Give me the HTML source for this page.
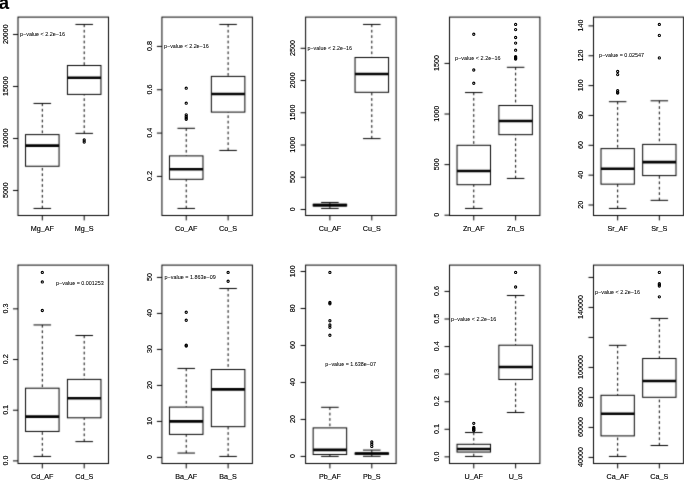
<!DOCTYPE html>
<html><head><meta charset="utf-8"><style>
html,body{margin:0;padding:0;background:#fff;}
body{width:684px;height:480px;overflow:hidden;}
svg{display:block;}
text{font-family:"Liberation Sans",sans-serif;fill:#000;stroke:#000;stroke-width:0.15px;}
.ax{font-size:7.2px;}
.ay{font-size:7.2px;}
.pv{font-size:5.4px;stroke-width:0.05px;}
.fr{fill:none;stroke:#000;stroke-width:1.0;}
.ln{stroke:#000;stroke-width:1;fill:none;}
.cp{stroke:#000;stroke-width:1;fill:none;stroke-linecap:round;}
.wh{stroke:#000;stroke-width:1;stroke-dasharray:2.7 2.7;fill:none;}
.bx{fill:#fff;stroke:#000;stroke-width:1;}
.md{stroke:#000;stroke-width:2.6;}
.pt{fill:none;stroke:#000;stroke-width:1.1;}
.lab{font-family:"Liberation Sans",sans-serif;font-weight:bold;font-size:18.5px;}
</style></head><body>
<svg width="684" height="480" viewBox="0 0 684 480">
<defs><filter id="bl" x="-5%" y="-5%" width="110%" height="110%" color-interpolation-filters="sRGB"><feConvolveMatrix order="3" kernelMatrix="0.0169 0.0962 0.0169 0.0962 0.5476 0.0962 0.0169 0.0962 0.0169" edgeMode="duplicate" preserveAlpha="false"/></filter><filter id="gs" x="-5%" y="-5%" width="110%" height="110%"><feOffset dx="0" dy="0"/></filter></defs>
<rect width="684" height="480" fill="#fff"/>
<g filter="url(#bl)">
<rect x="18" y="17.1" width="90.5" height="198.4" class="fr"/>
<line x1="13" y1="190.47" x2="18" y2="190.47" class="ln"/>
<line x1="13" y1="138.47" x2="18" y2="138.47" class="ln"/>
<line x1="13" y1="86.47" x2="18" y2="86.47" class="ln"/>
<line x1="13" y1="34.47" x2="18" y2="34.47" class="ln"/>
<line x1="42.3" y1="215.5" x2="42.3" y2="220.4" class="ln"/>
<line x1="84.2" y1="215.5" x2="84.2" y2="220.4" class="ln"/>
<line x1="42.3" y1="103.45" x2="42.3" y2="134.6" class="wh"/>
<line x1="42.3" y1="208.45" x2="42.3" y2="166.25" class="wh"/>
<line x1="33.92" y1="103.45" x2="50.68" y2="103.45" class="cp"/>
<line x1="33.92" y1="208.45" x2="50.68" y2="208.45" class="cp"/>
<rect x="25.54" y="134.6" width="33.52" height="31.65" class="bx"/>
<line x1="25.54" y1="145.6" x2="59.06" y2="145.6" class="md"/>
<line x1="84.2" y1="24.45" x2="84.2" y2="65.5" class="wh"/>
<line x1="84.2" y1="133.4" x2="84.2" y2="94.4" class="wh"/>
<line x1="75.82" y1="24.45" x2="92.58" y2="24.45" class="cp"/>
<line x1="75.82" y1="133.4" x2="92.58" y2="133.4" class="cp"/>
<rect x="67.44" y="65.5" width="33.52" height="28.9" class="bx"/>
<line x1="67.44" y1="77.75" x2="100.96" y2="77.75" class="md"/>
<rect x="161.93" y="17.1" width="90.47" height="198.4" class="fr"/>
<line x1="156.93" y1="176.41" x2="161.93" y2="176.41" class="ln"/>
<line x1="156.93" y1="133.08" x2="161.93" y2="133.08" class="ln"/>
<line x1="156.93" y1="89.75" x2="161.93" y2="89.75" class="ln"/>
<line x1="156.93" y1="46.41" x2="161.93" y2="46.41" class="ln"/>
<line x1="186.22" y1="215.5" x2="186.22" y2="220.4" class="ln"/>
<line x1="228.11" y1="215.5" x2="228.11" y2="220.4" class="ln"/>
<line x1="186.22" y1="128.3" x2="186.22" y2="155.9" class="wh"/>
<line x1="186.22" y1="208.45" x2="186.22" y2="179.3" class="wh"/>
<line x1="177.85" y1="128.3" x2="194.6" y2="128.3" class="cp"/>
<line x1="177.85" y1="208.45" x2="194.6" y2="208.45" class="cp"/>
<rect x="169.47" y="155.9" width="33.51" height="23.4" class="bx"/>
<line x1="169.47" y1="169.2" x2="202.98" y2="169.2" class="md"/>
<line x1="228.11" y1="24.45" x2="228.11" y2="76.4" class="wh"/>
<line x1="228.11" y1="150.45" x2="228.11" y2="112.1" class="wh"/>
<line x1="219.73" y1="24.45" x2="236.48" y2="24.45" class="cp"/>
<line x1="219.73" y1="150.45" x2="236.48" y2="150.45" class="cp"/>
<rect x="211.35" y="76.4" width="33.51" height="35.7" class="bx"/>
<line x1="211.35" y1="94" x2="244.86" y2="94" class="md"/>
<rect x="305.6" y="17.1" width="90.5" height="198.4" class="fr"/>
<line x1="300.6" y1="209.5" x2="305.6" y2="209.5" class="ln"/>
<line x1="300.6" y1="177.26" x2="305.6" y2="177.26" class="ln"/>
<line x1="300.6" y1="145.02" x2="305.6" y2="145.02" class="ln"/>
<line x1="300.6" y1="112.78" x2="305.6" y2="112.78" class="ln"/>
<line x1="300.6" y1="80.54" x2="305.6" y2="80.54" class="ln"/>
<line x1="300.6" y1="48.3" x2="305.6" y2="48.3" class="ln"/>
<line x1="329.9" y1="215.5" x2="329.9" y2="220.4" class="ln"/>
<line x1="371.8" y1="215.5" x2="371.8" y2="220.4" class="ln"/>
<line x1="329.9" y1="202.45" x2="329.9" y2="204.3" class="wh"/>
<line x1="329.9" y1="208.45" x2="329.9" y2="205.95" class="wh"/>
<line x1="321.52" y1="202.45" x2="338.28" y2="202.45" class="cp"/>
<line x1="321.52" y1="208.45" x2="338.28" y2="208.45" class="cp"/>
<rect x="313.14" y="204.3" width="33.52" height="1.65" class="bx"/>
<line x1="313.14" y1="205.1" x2="346.66" y2="205.1" class="md"/>
<line x1="371.8" y1="24.45" x2="371.8" y2="57.5" class="wh"/>
<line x1="371.8" y1="138.6" x2="371.8" y2="92.3" class="wh"/>
<line x1="363.42" y1="24.45" x2="380.18" y2="24.45" class="cp"/>
<line x1="363.42" y1="138.6" x2="380.18" y2="138.6" class="cp"/>
<rect x="355.04" y="57.5" width="33.52" height="34.8" class="bx"/>
<line x1="355.04" y1="73.95" x2="388.56" y2="73.95" class="md"/>
<rect x="449.5" y="17.1" width="90.4" height="198.4" class="fr"/>
<line x1="444.5" y1="215.2" x2="449.5" y2="215.2" class="ln"/>
<line x1="444.5" y1="164.61" x2="449.5" y2="164.61" class="ln"/>
<line x1="444.5" y1="114.02" x2="449.5" y2="114.02" class="ln"/>
<line x1="444.5" y1="63.43" x2="449.5" y2="63.43" class="ln"/>
<line x1="473.77" y1="215.5" x2="473.77" y2="220.4" class="ln"/>
<line x1="515.63" y1="215.5" x2="515.63" y2="220.4" class="ln"/>
<line x1="473.77" y1="92.55" x2="473.77" y2="145.3" class="wh"/>
<line x1="473.77" y1="208.45" x2="473.77" y2="184.7" class="wh"/>
<line x1="465.4" y1="92.55" x2="482.14" y2="92.55" class="cp"/>
<line x1="465.4" y1="208.45" x2="482.14" y2="208.45" class="cp"/>
<rect x="457.03" y="145.3" width="33.48" height="39.4" class="bx"/>
<line x1="457.03" y1="171" x2="490.52" y2="171" class="md"/>
<line x1="515.63" y1="67.3" x2="515.63" y2="105.5" class="wh"/>
<line x1="515.63" y1="178.45" x2="515.63" y2="134.65" class="wh"/>
<line x1="507.26" y1="67.3" x2="524" y2="67.3" class="cp"/>
<line x1="507.26" y1="178.45" x2="524" y2="178.45" class="cp"/>
<rect x="498.88" y="105.5" width="33.48" height="29.15" class="bx"/>
<line x1="498.88" y1="120.95" x2="532.37" y2="120.95" class="md"/>
<rect x="593.5" y="17.1" width="90" height="198.4" class="fr"/>
<line x1="588.5" y1="205" x2="593.5" y2="205" class="ln"/>
<line x1="588.5" y1="175.15" x2="593.5" y2="175.15" class="ln"/>
<line x1="588.5" y1="145.3" x2="593.5" y2="145.3" class="ln"/>
<line x1="588.5" y1="115.45" x2="593.5" y2="115.45" class="ln"/>
<line x1="588.5" y1="85.6" x2="593.5" y2="85.6" class="ln"/>
<line x1="588.5" y1="55.75" x2="593.5" y2="55.75" class="ln"/>
<line x1="588.5" y1="25.9" x2="593.5" y2="25.9" class="ln"/>
<line x1="617.67" y1="215.5" x2="617.67" y2="220.4" class="ln"/>
<line x1="659.33" y1="215.5" x2="659.33" y2="220.4" class="ln"/>
<line x1="617.67" y1="101.7" x2="617.67" y2="148.6" class="wh"/>
<line x1="617.67" y1="208.45" x2="617.67" y2="184.15" class="wh"/>
<line x1="609.33" y1="101.7" x2="626" y2="101.7" class="cp"/>
<line x1="609.33" y1="208.45" x2="626" y2="208.45" class="cp"/>
<rect x="601" y="148.6" width="33.33" height="35.55" class="bx"/>
<line x1="601" y1="168.75" x2="634.33" y2="168.75" class="md"/>
<line x1="659.33" y1="100.8" x2="659.33" y2="144.4" class="wh"/>
<line x1="659.33" y1="200.35" x2="659.33" y2="175.6" class="wh"/>
<line x1="651" y1="100.8" x2="667.67" y2="100.8" class="cp"/>
<line x1="651" y1="200.35" x2="667.67" y2="200.35" class="cp"/>
<rect x="642.67" y="144.4" width="33.33" height="31.2" class="bx"/>
<line x1="642.67" y1="162.1" x2="676" y2="162.1" class="md"/>
<rect x="18" y="265.1" width="90.5" height="198.4" class="fr"/>
<line x1="13" y1="460.9" x2="18" y2="460.9" class="ln"/>
<line x1="13" y1="410.22" x2="18" y2="410.22" class="ln"/>
<line x1="13" y1="359.53" x2="18" y2="359.53" class="ln"/>
<line x1="13" y1="308.85" x2="18" y2="308.85" class="ln"/>
<line x1="42.3" y1="463.5" x2="42.3" y2="468.4" class="ln"/>
<line x1="84.2" y1="463.5" x2="84.2" y2="468.4" class="ln"/>
<line x1="42.3" y1="324.95" x2="42.3" y2="388.2" class="wh"/>
<line x1="42.3" y1="456.45" x2="42.3" y2="431.45" class="wh"/>
<line x1="33.92" y1="324.95" x2="50.68" y2="324.95" class="cp"/>
<line x1="33.92" y1="456.45" x2="50.68" y2="456.45" class="cp"/>
<rect x="25.54" y="388.2" width="33.52" height="43.25" class="bx"/>
<line x1="25.54" y1="416.6" x2="59.06" y2="416.6" class="md"/>
<line x1="84.2" y1="335.5" x2="84.2" y2="379.4" class="wh"/>
<line x1="84.2" y1="441.6" x2="84.2" y2="417.8" class="wh"/>
<line x1="75.82" y1="335.5" x2="92.58" y2="335.5" class="cp"/>
<line x1="75.82" y1="441.6" x2="92.58" y2="441.6" class="cp"/>
<rect x="67.44" y="379.4" width="33.52" height="38.4" class="bx"/>
<line x1="67.44" y1="398.2" x2="100.96" y2="398.2" class="md"/>
<rect x="161.93" y="265.1" width="90.47" height="198.4" class="fr"/>
<line x1="156.93" y1="457.43" x2="161.93" y2="457.43" class="ln"/>
<line x1="156.93" y1="421.43" x2="161.93" y2="421.43" class="ln"/>
<line x1="156.93" y1="385.43" x2="161.93" y2="385.43" class="ln"/>
<line x1="156.93" y1="349.43" x2="161.93" y2="349.43" class="ln"/>
<line x1="156.93" y1="313.43" x2="161.93" y2="313.43" class="ln"/>
<line x1="156.93" y1="277.43" x2="161.93" y2="277.43" class="ln"/>
<line x1="186.22" y1="463.5" x2="186.22" y2="468.4" class="ln"/>
<line x1="228.11" y1="463.5" x2="228.11" y2="468.4" class="ln"/>
<line x1="186.22" y1="368.45" x2="186.22" y2="407.1" class="wh"/>
<line x1="186.22" y1="453.05" x2="186.22" y2="434.4" class="wh"/>
<line x1="177.85" y1="368.45" x2="194.6" y2="368.45" class="cp"/>
<line x1="177.85" y1="453.05" x2="194.6" y2="453.05" class="cp"/>
<rect x="169.47" y="407.1" width="33.51" height="27.3" class="bx"/>
<line x1="169.47" y1="421.35" x2="202.98" y2="421.35" class="md"/>
<line x1="228.11" y1="288.5" x2="228.11" y2="369.5" class="wh"/>
<line x1="228.11" y1="456.45" x2="228.11" y2="426.65" class="wh"/>
<line x1="219.73" y1="288.5" x2="236.48" y2="288.5" class="cp"/>
<line x1="219.73" y1="456.45" x2="236.48" y2="456.45" class="cp"/>
<rect x="211.35" y="369.5" width="33.51" height="57.15" class="bx"/>
<line x1="211.35" y1="389.4" x2="244.86" y2="389.4" class="md"/>
<rect x="305.6" y="265.1" width="90.5" height="198.4" class="fr"/>
<line x1="300.6" y1="456.43" x2="305.6" y2="456.43" class="ln"/>
<line x1="300.6" y1="419.44" x2="305.6" y2="419.44" class="ln"/>
<line x1="300.6" y1="382.46" x2="305.6" y2="382.46" class="ln"/>
<line x1="300.6" y1="345.47" x2="305.6" y2="345.47" class="ln"/>
<line x1="300.6" y1="308.49" x2="305.6" y2="308.49" class="ln"/>
<line x1="300.6" y1="271.5" x2="305.6" y2="271.5" class="ln"/>
<line x1="329.9" y1="463.5" x2="329.9" y2="468.4" class="ln"/>
<line x1="371.8" y1="463.5" x2="371.8" y2="468.4" class="ln"/>
<line x1="329.9" y1="407.3" x2="329.9" y2="427.9" class="wh"/>
<line x1="329.9" y1="456.4" x2="329.9" y2="454.5" class="wh"/>
<line x1="321.52" y1="407.3" x2="338.28" y2="407.3" class="cp"/>
<line x1="321.52" y1="456.4" x2="338.28" y2="456.4" class="cp"/>
<rect x="313.14" y="427.9" width="33.52" height="26.6" class="bx"/>
<line x1="313.14" y1="449.9" x2="346.66" y2="449.9" class="md"/>
<line x1="371.8" y1="450.1" x2="371.8" y2="453" class="wh"/>
<line x1="371.8" y1="456.3" x2="371.8" y2="454.2" class="wh"/>
<line x1="363.42" y1="450.1" x2="380.18" y2="450.1" class="cp"/>
<line x1="363.42" y1="456.3" x2="380.18" y2="456.3" class="cp"/>
<rect x="355.04" y="453" width="33.52" height="1.2" class="bx"/>
<line x1="355.04" y1="453.55" x2="388.56" y2="453.55" class="md"/>
<rect x="449.5" y="265.1" width="90.4" height="198.4" class="fr"/>
<line x1="444.5" y1="456.85" x2="449.5" y2="456.85" class="ln"/>
<line x1="444.5" y1="429.28" x2="449.5" y2="429.28" class="ln"/>
<line x1="444.5" y1="401.71" x2="449.5" y2="401.71" class="ln"/>
<line x1="444.5" y1="374.14" x2="449.5" y2="374.14" class="ln"/>
<line x1="444.5" y1="346.57" x2="449.5" y2="346.57" class="ln"/>
<line x1="444.5" y1="319" x2="449.5" y2="319" class="ln"/>
<line x1="444.5" y1="291.43" x2="449.5" y2="291.43" class="ln"/>
<line x1="473.77" y1="463.5" x2="473.77" y2="468.4" class="ln"/>
<line x1="515.63" y1="463.5" x2="515.63" y2="468.4" class="ln"/>
<line x1="473.77" y1="432.5" x2="473.77" y2="444.3" class="wh"/>
<line x1="473.77" y1="456.45" x2="473.77" y2="452.05" class="wh"/>
<line x1="465.4" y1="432.5" x2="482.14" y2="432.5" class="cp"/>
<line x1="465.4" y1="456.45" x2="482.14" y2="456.45" class="cp"/>
<rect x="457.03" y="444.3" width="33.48" height="7.75" class="bx"/>
<line x1="457.03" y1="449" x2="490.52" y2="449" class="md"/>
<line x1="515.63" y1="295.5" x2="515.63" y2="345.2" class="wh"/>
<line x1="515.63" y1="412.5" x2="515.63" y2="379.5" class="wh"/>
<line x1="507.26" y1="295.5" x2="524" y2="295.5" class="cp"/>
<line x1="507.26" y1="412.5" x2="524" y2="412.5" class="cp"/>
<rect x="498.88" y="345.2" width="33.48" height="34.3" class="bx"/>
<line x1="498.88" y1="367" x2="532.37" y2="367" class="md"/>
<rect x="593.5" y="265.1" width="90" height="198.4" class="fr"/>
<line x1="588.5" y1="457.43" x2="593.5" y2="457.43" class="ln"/>
<line x1="588.5" y1="427.43" x2="593.5" y2="427.43" class="ln"/>
<line x1="588.5" y1="397.43" x2="593.5" y2="397.43" class="ln"/>
<line x1="588.5" y1="367.43" x2="593.5" y2="367.43" class="ln"/>
<line x1="588.5" y1="337.43" x2="593.5" y2="337.43" class="ln"/>
<line x1="588.5" y1="307.43" x2="593.5" y2="307.43" class="ln"/>
<line x1="588.5" y1="277.43" x2="593.5" y2="277.43" class="ln"/>
<line x1="617.67" y1="463.5" x2="617.67" y2="468.4" class="ln"/>
<line x1="659.33" y1="463.5" x2="659.33" y2="468.4" class="ln"/>
<line x1="617.67" y1="345.35" x2="617.67" y2="395.3" class="wh"/>
<line x1="617.67" y1="456.45" x2="617.67" y2="435.9" class="wh"/>
<line x1="609.33" y1="345.35" x2="626" y2="345.35" class="cp"/>
<line x1="609.33" y1="456.45" x2="626" y2="456.45" class="cp"/>
<rect x="601" y="395.3" width="33.33" height="40.6" class="bx"/>
<line x1="601" y1="413.75" x2="634.33" y2="413.75" class="md"/>
<line x1="659.33" y1="318.45" x2="659.33" y2="358.5" class="wh"/>
<line x1="659.33" y1="445.5" x2="659.33" y2="397.3" class="wh"/>
<line x1="651" y1="318.45" x2="667.67" y2="318.45" class="cp"/>
<line x1="651" y1="445.5" x2="667.67" y2="445.5" class="cp"/>
<rect x="642.67" y="358.5" width="33.33" height="38.8" class="bx"/>
<line x1="642.67" y1="381" x2="676" y2="381" class="md"/>
</g>
<g filter="url(#gs)">
<circle cx="84.2" cy="140" r="1.1" class="pt"/>
<circle cx="84.2" cy="142" r="1.1" class="pt"/>
<circle cx="186.22" cy="88.2" r="1.1" class="pt"/>
<circle cx="186.22" cy="103.2" r="1.1" class="pt"/>
<circle cx="186.22" cy="114.8" r="1.1" class="pt"/>
<circle cx="186.22" cy="116.5" r="1.1" class="pt"/>
<circle cx="186.22" cy="118" r="1.1" class="pt"/>
<circle cx="186.22" cy="119.3" r="1.1" class="pt"/>
<circle cx="473.77" cy="34.25" r="1.1" class="pt"/>
<circle cx="473.77" cy="70" r="1.1" class="pt"/>
<circle cx="473.77" cy="83.25" r="1.1" class="pt"/>
<circle cx="515.63" cy="24.45" r="1.1" class="pt"/>
<circle cx="515.63" cy="29.6" r="1.1" class="pt"/>
<circle cx="515.63" cy="37.5" r="1.1" class="pt"/>
<circle cx="515.63" cy="43.1" r="1.1" class="pt"/>
<circle cx="515.63" cy="50.2" r="1.1" class="pt"/>
<circle cx="515.63" cy="56.6" r="1.1" class="pt"/>
<circle cx="515.63" cy="57.5" r="1.1" class="pt"/>
<circle cx="515.63" cy="58.3" r="1.1" class="pt"/>
<circle cx="515.63" cy="59" r="1.1" class="pt"/>
<circle cx="617.67" cy="71.5" r="1.1" class="pt"/>
<circle cx="617.67" cy="74.6" r="1.1" class="pt"/>
<circle cx="617.67" cy="90.7" r="1.1" class="pt"/>
<circle cx="617.67" cy="92.3" r="1.1" class="pt"/>
<circle cx="617.67" cy="93.1" r="1.1" class="pt"/>
<circle cx="659.33" cy="24.45" r="1.1" class="pt"/>
<circle cx="659.33" cy="35.4" r="1.1" class="pt"/>
<circle cx="659.33" cy="57.9" r="1.1" class="pt"/>
<circle cx="42.3" cy="272.45" r="1.1" class="pt"/>
<circle cx="42.3" cy="281.95" r="1.1" class="pt"/>
<circle cx="42.3" cy="310.5" r="1.1" class="pt"/>
<circle cx="186.22" cy="312.25" r="1.1" class="pt"/>
<circle cx="186.22" cy="320.25" r="1.1" class="pt"/>
<circle cx="186.22" cy="345.25" r="1.1" class="pt"/>
<circle cx="186.22" cy="346" r="1.1" class="pt"/>
<circle cx="228.11" cy="272.45" r="1.1" class="pt"/>
<circle cx="228.11" cy="281.25" r="1.1" class="pt"/>
<circle cx="329.9" cy="272.45" r="1.1" class="pt"/>
<circle cx="329.9" cy="302.5" r="1.1" class="pt"/>
<circle cx="329.9" cy="303.75" r="1.1" class="pt"/>
<circle cx="329.9" cy="320.75" r="1.1" class="pt"/>
<circle cx="329.9" cy="325" r="1.1" class="pt"/>
<circle cx="329.9" cy="327.25" r="1.1" class="pt"/>
<circle cx="329.9" cy="335.25" r="1.1" class="pt"/>
<circle cx="371.8" cy="442" r="1.1" class="pt"/>
<circle cx="371.8" cy="444.2" r="1.1" class="pt"/>
<circle cx="371.8" cy="446.4" r="1.1" class="pt"/>
<circle cx="473.77" cy="423.3" r="1.1" class="pt"/>
<circle cx="473.77" cy="427.5" r="1.1" class="pt"/>
<circle cx="473.77" cy="428.3" r="1.1" class="pt"/>
<circle cx="473.77" cy="429.1" r="1.1" class="pt"/>
<circle cx="473.77" cy="429.9" r="1.1" class="pt"/>
<circle cx="473.77" cy="430.6" r="1.1" class="pt"/>
<circle cx="515.63" cy="272.45" r="1.1" class="pt"/>
<circle cx="515.63" cy="287" r="1.1" class="pt"/>
<circle cx="659.33" cy="272.4" r="1.1" class="pt"/>
<circle cx="659.33" cy="283.7" r="1.1" class="pt"/>
<circle cx="659.33" cy="284.8" r="1.1" class="pt"/>
<circle cx="659.33" cy="286" r="1.1" class="pt"/>
<circle cx="659.33" cy="296.85" r="1.1" class="pt"/>
</g>
<g class="tx" filter="url(#gs)">
<text x="-1.2" y="9.0" class="lab">a</text>
<text x="0" y="0" transform="translate(7.6 190.12) rotate(-90)" class="ax ay" text-anchor="middle">5000</text>
<text x="0" y="0" transform="translate(7.6 138.12) rotate(-90)" class="ax ay" text-anchor="middle">10000</text>
<text x="0" y="0" transform="translate(7.6 86.12) rotate(-90)" class="ax ay" text-anchor="middle">15000</text>
<text x="0" y="0" transform="translate(7.6 34.12) rotate(-90)" class="ax ay" text-anchor="middle">20000</text>
<text x="42.3" y="230.7" class="ax" text-anchor="middle">Mg<tspan dy="-1">_</tspan><tspan dy="1">AF</tspan></text>
<text x="84.2" y="230.7" class="ax" text-anchor="middle">Mg<tspan dy="-1">_</tspan><tspan dy="1">S</tspan></text>
<text x="20" y="36.02" class="pv" textLength="45" lengthAdjust="spacingAndGlyphs">p−value < 2.2e−16</text>
<text x="0" y="0" transform="translate(151.53 176.06) rotate(-90)" class="ax ay" text-anchor="middle">0.2</text>
<text x="0" y="0" transform="translate(151.53 132.73) rotate(-90)" class="ax ay" text-anchor="middle">0.4</text>
<text x="0" y="0" transform="translate(151.53 89.4) rotate(-90)" class="ax ay" text-anchor="middle">0.6</text>
<text x="0" y="0" transform="translate(151.53 46.06) rotate(-90)" class="ax ay" text-anchor="middle">0.8</text>
<text x="186.22" y="230.7" class="ax" text-anchor="middle">Co<tspan dy="-1">_</tspan><tspan dy="1">AF</tspan></text>
<text x="228.11" y="230.7" class="ax" text-anchor="middle">Co<tspan dy="-1">_</tspan><tspan dy="1">S</tspan></text>
<text x="164" y="48" class="pv" textLength="44.75" lengthAdjust="spacingAndGlyphs">p−value < 2.2e−16</text>
<text x="0" y="0" transform="translate(295.2 209.15) rotate(-90)" class="ax ay" text-anchor="middle">0</text>
<text x="0" y="0" transform="translate(295.2 176.91) rotate(-90)" class="ax ay" text-anchor="middle">500</text>
<text x="0" y="0" transform="translate(295.2 144.67) rotate(-90)" class="ax ay" text-anchor="middle">1000</text>
<text x="0" y="0" transform="translate(295.2 112.43) rotate(-90)" class="ax ay" text-anchor="middle">1500</text>
<text x="0" y="0" transform="translate(295.2 80.19) rotate(-90)" class="ax ay" text-anchor="middle">2000</text>
<text x="0" y="0" transform="translate(295.2 47.95) rotate(-90)" class="ax ay" text-anchor="middle">2500</text>
<text x="329.9" y="230.7" class="ax" text-anchor="middle">Cu<tspan dy="-1">_</tspan><tspan dy="1">AF</tspan></text>
<text x="371.8" y="230.7" class="ax" text-anchor="middle">Cu<tspan dy="-1">_</tspan><tspan dy="1">S</tspan></text>
<text x="307.5" y="49.85" class="pv" textLength="44.5" lengthAdjust="spacingAndGlyphs">p−value < 2.2e−16</text>
<text x="0" y="0" transform="translate(439.1 214.85) rotate(-90)" class="ax ay" text-anchor="middle">0</text>
<text x="0" y="0" transform="translate(439.1 164.26) rotate(-90)" class="ax ay" text-anchor="middle">500</text>
<text x="0" y="0" transform="translate(439.1 113.67) rotate(-90)" class="ax ay" text-anchor="middle">1000</text>
<text x="0" y="0" transform="translate(439.1 63.08) rotate(-90)" class="ax ay" text-anchor="middle">1500</text>
<text x="473.77" y="230.7" class="ax" text-anchor="middle">Zn<tspan dy="-1">_</tspan><tspan dy="1">AF</tspan></text>
<text x="515.63" y="230.7" class="ax" text-anchor="middle">Zn<tspan dy="-1">_</tspan><tspan dy="1">S</tspan></text>
<text x="455" y="59.9" class="pv" textLength="45.5" lengthAdjust="spacingAndGlyphs">p−value < 2.2e−16</text>
<text x="0" y="0" transform="translate(583.1 204.65) rotate(-90)" class="ax ay" text-anchor="middle">20</text>
<text x="0" y="0" transform="translate(583.1 174.8) rotate(-90)" class="ax ay" text-anchor="middle">40</text>
<text x="0" y="0" transform="translate(583.1 144.95) rotate(-90)" class="ax ay" text-anchor="middle">60</text>
<text x="0" y="0" transform="translate(583.1 115.1) rotate(-90)" class="ax ay" text-anchor="middle">80</text>
<text x="0" y="0" transform="translate(583.1 85.25) rotate(-90)" class="ax ay" text-anchor="middle">100</text>
<text x="0" y="0" transform="translate(583.1 55.4) rotate(-90)" class="ax ay" text-anchor="middle">120</text>
<text x="0" y="0" transform="translate(583.1 25.55) rotate(-90)" class="ax ay" text-anchor="middle">140</text>
<text x="617.67" y="230.7" class="ax" text-anchor="middle">Sr<tspan dy="-1">_</tspan><tspan dy="1">AF</tspan></text>
<text x="659.33" y="230.7" class="ax" text-anchor="middle">Sr<tspan dy="-1">_</tspan><tspan dy="1">S</tspan></text>
<text x="599" y="57.3" class="pv" textLength="45" lengthAdjust="spacingAndGlyphs">p−value = 0.02547</text>
<text x="0" y="0" transform="translate(7.6 460.55) rotate(-90)" class="ax ay" text-anchor="middle">0.0</text>
<text x="0" y="0" transform="translate(7.6 409.87) rotate(-90)" class="ax ay" text-anchor="middle">0.1</text>
<text x="0" y="0" transform="translate(7.6 359.18) rotate(-90)" class="ax ay" text-anchor="middle">0.2</text>
<text x="0" y="0" transform="translate(7.6 308.5) rotate(-90)" class="ax ay" text-anchor="middle">0.3</text>
<text x="42.3" y="478.7" class="ax" text-anchor="middle">Cd<tspan dy="-1">_</tspan><tspan dy="1">AF</tspan></text>
<text x="84.2" y="478.7" class="ax" text-anchor="middle">Cd<tspan dy="-1">_</tspan><tspan dy="1">S</tspan></text>
<text x="56.1" y="285.05" class="pv" textLength="47.7" lengthAdjust="spacingAndGlyphs">p−value = 0.001253</text>
<text x="0" y="0" transform="translate(151.53 457.08) rotate(-90)" class="ax ay" text-anchor="middle">0</text>
<text x="0" y="0" transform="translate(151.53 421.08) rotate(-90)" class="ax ay" text-anchor="middle">10</text>
<text x="0" y="0" transform="translate(151.53 385.08) rotate(-90)" class="ax ay" text-anchor="middle">20</text>
<text x="0" y="0" transform="translate(151.53 349.08) rotate(-90)" class="ax ay" text-anchor="middle">30</text>
<text x="0" y="0" transform="translate(151.53 313.08) rotate(-90)" class="ax ay" text-anchor="middle">40</text>
<text x="0" y="0" transform="translate(151.53 277.08) rotate(-90)" class="ax ay" text-anchor="middle">50</text>
<text x="186.22" y="478.7" class="ax" text-anchor="middle">Ba<tspan dy="-1">_</tspan><tspan dy="1">AF</tspan></text>
<text x="228.11" y="478.7" class="ax" text-anchor="middle">Ba<tspan dy="-1">_</tspan><tspan dy="1">S</tspan></text>
<text x="164.6" y="278.98" class="pv" textLength="51.2" lengthAdjust="spacingAndGlyphs">p−value = 1.863e−09</text>
<text x="0" y="0" transform="translate(295.2 456.08) rotate(-90)" class="ax ay" text-anchor="middle">0</text>
<text x="0" y="0" transform="translate(295.2 419.09) rotate(-90)" class="ax ay" text-anchor="middle">20</text>
<text x="0" y="0" transform="translate(295.2 382.11) rotate(-90)" class="ax ay" text-anchor="middle">40</text>
<text x="0" y="0" transform="translate(295.2 345.12) rotate(-90)" class="ax ay" text-anchor="middle">60</text>
<text x="0" y="0" transform="translate(295.2 308.14) rotate(-90)" class="ax ay" text-anchor="middle">80</text>
<text x="0" y="0" transform="translate(295.2 271.15) rotate(-90)" class="ax ay" text-anchor="middle">100</text>
<text x="329.9" y="478.7" class="ax" text-anchor="middle">Pb<tspan dy="-1">_</tspan><tspan dy="1">AF</tspan></text>
<text x="371.8" y="478.7" class="ax" text-anchor="middle">Pb<tspan dy="-1">_</tspan><tspan dy="1">S</tspan></text>
<text x="325.3" y="365.6" class="pv" textLength="50.6" lengthAdjust="spacingAndGlyphs">p−value = 1.638e−07</text>
<text x="0" y="0" transform="translate(439.1 456.5) rotate(-90)" class="ax ay" text-anchor="middle">0.0</text>
<text x="0" y="0" transform="translate(439.1 428.93) rotate(-90)" class="ax ay" text-anchor="middle">0.1</text>
<text x="0" y="0" transform="translate(439.1 401.36) rotate(-90)" class="ax ay" text-anchor="middle">0.2</text>
<text x="0" y="0" transform="translate(439.1 373.79) rotate(-90)" class="ax ay" text-anchor="middle">0.3</text>
<text x="0" y="0" transform="translate(439.1 346.22) rotate(-90)" class="ax ay" text-anchor="middle">0.4</text>
<text x="0" y="0" transform="translate(439.1 318.65) rotate(-90)" class="ax ay" text-anchor="middle">0.5</text>
<text x="0" y="0" transform="translate(439.1 291.08) rotate(-90)" class="ax ay" text-anchor="middle">0.6</text>
<text x="473.77" y="478.7" class="ax" text-anchor="middle">U<tspan dy="-1">_</tspan><tspan dy="1">AF</tspan></text>
<text x="515.63" y="478.7" class="ax" text-anchor="middle">U<tspan dy="-1">_</tspan><tspan dy="1">S</tspan></text>
<text x="451" y="320.65" class="pv" textLength="45.25" lengthAdjust="spacingAndGlyphs">p−value < 2.2e−16</text>
<text x="0" y="0" transform="translate(583.1 457.08) rotate(-90)" class="ax ay" text-anchor="middle">40000</text>
<text x="0" y="0" transform="translate(583.1 427.08) rotate(-90)" class="ax ay" text-anchor="middle">60000</text>
<text x="0" y="0" transform="translate(583.1 397.08) rotate(-90)" class="ax ay" text-anchor="middle">80000</text>
<text x="0" y="0" transform="translate(583.1 367.08) rotate(-90)" class="ax ay" text-anchor="middle">100000</text>
<text x="0" y="0" transform="translate(583.1 307.08) rotate(-90)" class="ax ay" text-anchor="middle">140000</text>
<text x="617.67" y="478.7" class="ax" text-anchor="middle">Ca<tspan dy="-1">_</tspan><tspan dy="1">AF</tspan></text>
<text x="659.33" y="478.7" class="ax" text-anchor="middle">Ca<tspan dy="-1">_</tspan><tspan dy="1">S</tspan></text>
<text x="595" y="293.8" class="pv" textLength="45" lengthAdjust="spacingAndGlyphs">p−value < 2.2e−16</text>
</g>
</svg>
</body></html>
